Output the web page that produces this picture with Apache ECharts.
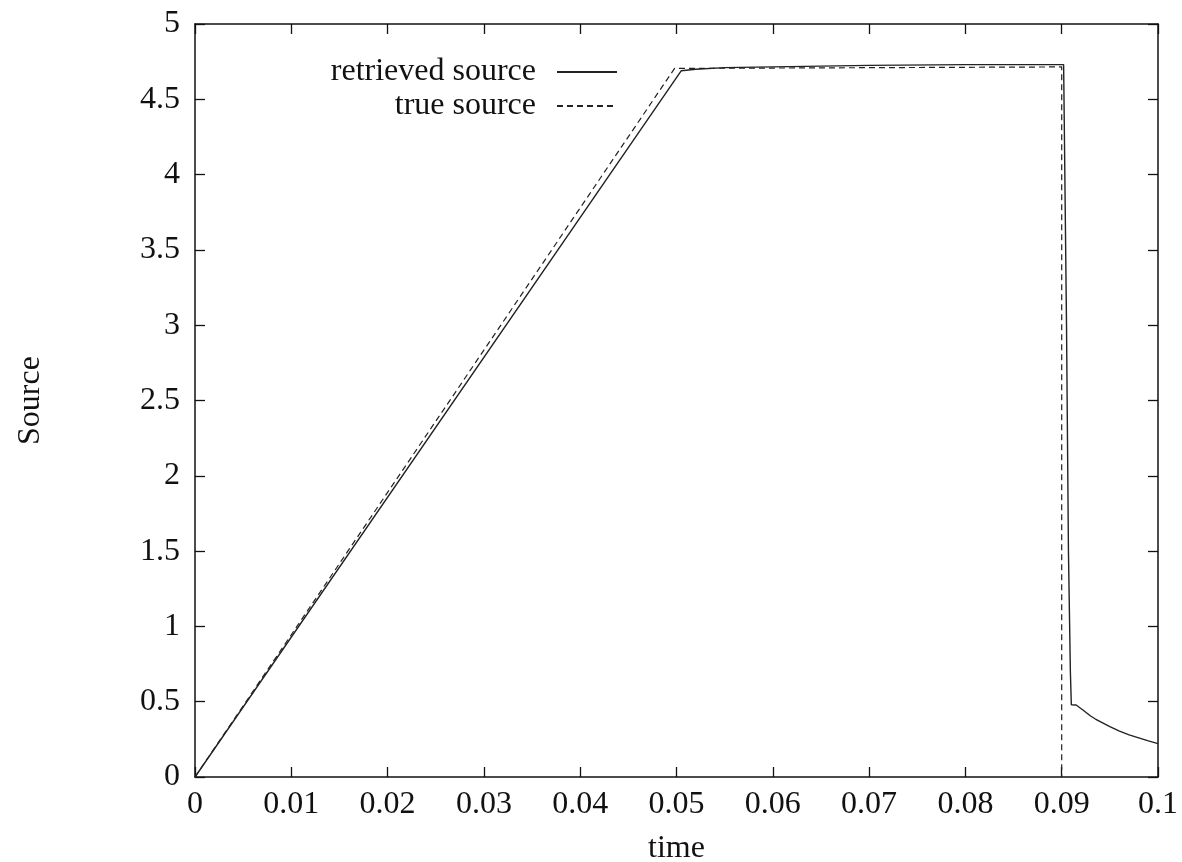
<!DOCTYPE html>
<html>
<head>
<meta charset="utf-8">
<script src="https://cdn.jsdelivr.net/npm/echarts@6/dist/echarts.min.js"></script>
<style>html,body{margin:0;padding:0;background:#fff}#c{width:1182px;height:862px}</style>
</head>
<body>
<div id="c"></div>
<script>
var xTicks = [0, 0.01, 0.02, 0.03, 0.04, 0.05, 0.06, 0.07, 0.08, 0.09, 0.1];
var yTicks = [0, 0.5, 1, 1.5, 2, 2.5, 3, 3.5, 4, 4.5, 5];
var retrievedT = [0, 0.0505, 0.052, 0.055, 0.06, 0.07, 0.08, 0.0902, 0.0905, 0.0907, 0.0909, 0.091, 0.0915, 0.0922, 0.0925, 0.093, 0.0935, 0.094, 0.095, 0.096, 0.097, 0.098, 0.099, 0.1];
var retrievedV = [0, 4.69, 4.70, 4.71, 4.715, 4.725, 4.73, 4.73, 3.0, 1.5, 0.7, 0.48, 0.478, 0.445, 0.43, 0.405, 0.385, 0.367, 0.335, 0.305, 0.28, 0.26, 0.24, 0.222];
var trueT = [0, 0.0498, 0.09, 0.09];
var trueV = [0, 4.705, 4.715, 0];

function pairs(t, v){ return t.map(function(x,i){ return [x, v[i]]; }); }
var font = 'Liberation Serif';
var fs = 32;
var chart = echarts.init(document.getElementById('c'));
function axisCommon(){
  return {
    axisLine: {show: true, onZero: false, lineStyle: {color: '#111', width: 1.5}},
    axisTick: {show: true, inside: true, length: 10, lineStyle: {color: '#111', width: 1.3}},
    splitLine: {show: false}
  };
}
var legendText = {fontFamily: font, fontSize: fs, color: '#111', padding: [0, 16, 0, 0]};
chart.setOption({
  backgroundColor: '#fff',
  animation: false,
  grid: {left: 195, right: 24, top: 24, bottom: 85, containLabel: false, outerBoundsMode: 'none'},
  legend: [
    {data: ['retrieved source'], orient: 'vertical', align: 'right', right: 564, top: 56, padding: 0,
     itemWidth: 60, itemHeight: 14, itemStyle: {opacity: 0}, textStyle: legendText},
    {data: ['true source'], orient: 'vertical', align: 'right', right: 564, top: 90, padding: 0,
     itemWidth: 60, itemHeight: 14, itemStyle: {opacity: 0}, textStyle: legendText}
  ],
  xAxis: [
    Object.assign(axisCommon(), {type: 'value', min: 0, max: 0.1, interval: 0.01, position: 'bottom',
      name: 'time', nameLocation: 'middle', nameGap: 56,
      nameTextStyle: {fontFamily: font, fontSize: fs, color: '#111'},
      axisLabel: {fontFamily: font, fontSize: fs, color: '#111', margin: 12,
        formatter: function(v){ return String(parseFloat(v.toFixed(2))); }}}),
    Object.assign(axisCommon(), {type: 'value', min: 0, max: 0.1, interval: 0.01, position: 'top',
      axisLabel: {show: false}})
  ],
  yAxis: [
    Object.assign(axisCommon(), {type: 'value', min: 0, max: 5, interval: 0.5, position: 'left',
      name: 'Source', nameLocation: 'middle', nameGap: 148, nameRotate: 90,
      nameTextStyle: {fontFamily: font, fontSize: fs, color: '#111'},
      axisLabel: {fontFamily: font, fontSize: fs, color: '#111', margin: 15,
        formatter: function(v){ return String(parseFloat(v.toFixed(1))); }}}),
    Object.assign(axisCommon(), {type: 'value', min: 0, max: 5, interval: 0.5, position: 'right',
      axisLabel: {show: false}})
  ],
  series: [
    {name: 'retrieved source', type: 'line', data: pairs(retrievedT, retrievedV),
     symbol: 'none', smooth: false, lineStyle: {color: '#222', width: 1.4, type: 'solid'},
     itemStyle: {color: '#222'}, z: 3},
    {name: 'true source', type: 'line', data: pairs(trueT, trueV),
     symbol: 'none', smooth: false, lineStyle: {color: '#222', width: 1.2, type: [6, 4]},
     itemStyle: {color: '#222'}, z: 2}
  ]
});
</script>
</body>
</html>
